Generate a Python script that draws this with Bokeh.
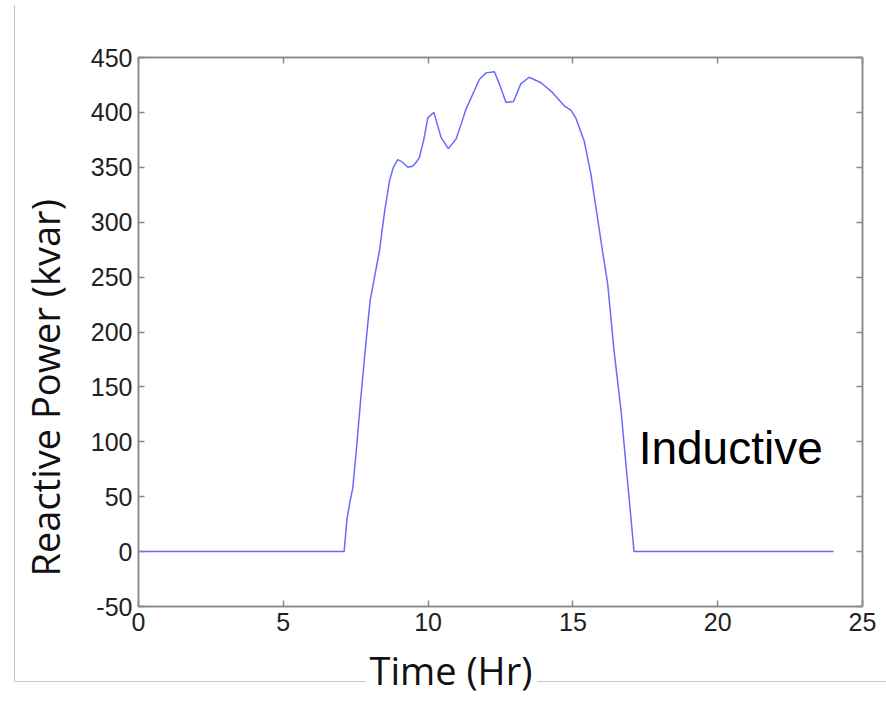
from bokeh.plotting import figure
from bokeh.models import (LinearAxis, Label, FixedTicker, Range1d, Title,
                          PrintfTickFormatter, CustomLabelingPolicy, InlineStyleSheet)
from bokeh.embed import file_html
from bokeh.resources import INLINE

# ---- data ----
time_hr = [0, 7.1, 7.2, 7.3, 7.4, 7.52, 7.69, 7.86, 8.0, 8.15, 8.32, 8.5, 8.67,
           8.8, 8.95, 9.1, 9.3, 9.47, 9.6, 9.7, 9.85, 9.99, 10.2, 10.45, 10.7,
           10.97, 11.15, 11.31, 11.6, 11.77, 12.0, 12.29, 12.46, 12.69, 12.95,
           13.2, 13.49, 13.9, 14.3, 14.7, 14.93, 15.1, 15.39, 15.62, 15.85,
           16.02, 16.2, 16.42, 16.66, 16.83, 17.0, 17.11, 24.0]
reactive_kvar = [0, 0, 30, 45, 58, 92, 144, 192, 229, 250, 274, 310, 338,
                 350, 357, 355, 350, 351, 355, 359, 375, 395, 400, 377, 367,
                 376, 390, 403, 420, 430, 436, 437, 426, 409, 410,
                 426, 432, 427, 418, 406, 402, 395, 374, 344, 304,
                 274, 244, 183, 129, 80, 32, 0, 0]
x_ticks = [0, 5, 10, 15, 20, 25]
y_ticks = [-50, 0, 50, 100, 150, 200, 250, 300, 350, 400, 450]
x_label = "Time (Hr)"
y_label = "Reactive Power (kvar)"
note_text = "Inductive"

assert len(time_hr) == len(reactive_kvar)

p = figure(width=886, height=703, output_backend="svg", toolbar_location=None,
           x_range=Range1d(0, 25), y_range=Range1d(-50, 450),
           x_axis_location=None, y_axis_location=None,
           min_border_left=137, min_border_right=24,
           min_border_top=57, min_border_bottom=96)
p.grid.visible = False
p.background_fill_color = "white"
p.border_fill_color = "white"
p.outline_line_color = "#888888"
p.outline_line_width = 1.5

frame_col = "#888888"
tick_col = "#222222"
no_labels = CustomLabelingPolicy(code="return new Set()")


def make_axis(ticks, show_labels):
    ax = LinearAxis(ticker=FixedTicker(ticks=ticks),
                    formatter=PrintfTickFormatter(format="%d"))
    ax.axis_line_color = frame_col
    ax.axis_line_width = 1.5
    ax.major_tick_line_color = frame_col
    ax.major_tick_line_width = 1.5
    ax.major_tick_in = 6
    ax.major_tick_out = 0
    ax.minor_tick_line_color = None
    ax.major_label_text_font = "Liberation Sans"
    ax.major_label_text_color = tick_col
    if show_labels:
        ax.major_label_text_font_size = "25px"
        ax.major_label_standoff = 6
    else:
        ax.major_label_text_font_size = "2px"
        ax.major_label_policy = no_labels
        ax.major_label_standoff = 0
    return ax


p.add_layout(make_axis(x_ticks, True), "below")
p.add_layout(make_axis(y_ticks, True), "left")
p.add_layout(make_axis(x_ticks, False), "above")
p.add_layout(make_axis(y_ticks, False), "right")

p.line(time_hr, reactive_kvar, line_color="#2a2aff", line_alpha=0.7, line_width=1.5)

# axis titles as Titles (they sit off the frame centre in the reference)
p.add_layout(Title(text=x_label, align="left", offset=231, standoff=16,
                   text_font="Open Sans", text_font_size="38px",
                   text_font_style="normal", text_color="#111111"), "below")
p.add_layout(Title(text=y_label, align="left", offset=30, standoff=33,
                   text_font="Open Sans", text_font_size="38px",
                   text_font_style="normal", text_color="#111111"), "left")

p.add_layout(Label(x=17.27, y=94.2, text=note_text, text_font="Liberation Sans",
                   text_font_size="46px", text_color="black",
                   text_align="left", text_baseline="alphabetic"))

# screenshot border lines (left and bottom) drawn as a CSS overlay,
# interrupted behind the x-axis title as in the reference
p.stylesheets = [InlineStyleSheet(css="""
:host { position: relative; }
:host::before {
  content: "";
  position: absolute;
  left: 14px; top: 5px;
  width: 351px; height: 676px;
  border-left: 1.5px solid #c8c8c8;
  border-bottom: 1.5px solid #c8c8c8;
  pointer-events: none;
  z-index: 2;
}
:host::after {
  content: "";
  position: absolute;
  left: 537px; top: 681px;
  width: 400px; height: 0px;
  border-top: 1.5px solid #c8c8c8;
  pointer-events: none;
  z-index: 2;
}
""")]

open("out.html", "w").write(file_html(p, INLINE))
